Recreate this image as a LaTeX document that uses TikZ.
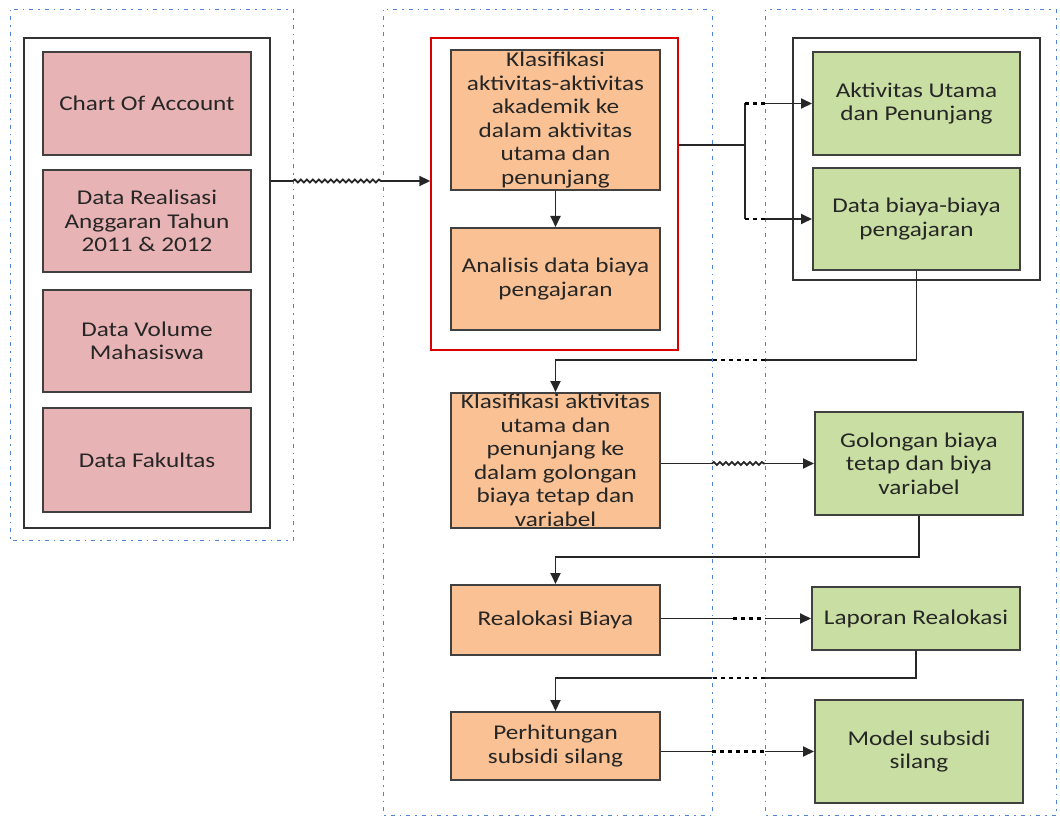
\documentclass[tikz,border=0pt]{standalone}
\usepackage{fontspec}
\setmainfont{Carlito}[FakeStretch=1.2]
\usetikzlibrary{arrows.meta,decorations.pathmorphing}
\definecolor{pinkf}{HTML}{E8B3B5}
\definecolor{orangef}{HTML}{F9C194}
\definecolor{greenf}{HTML}{C9DEA2}
\definecolor{lanec}{HTML}{4F82D9}
\definecolor{txt}{HTML}{262626}
\tikzset{
  lane/.style={draw=lanec, line width=1pt, dash pattern=on 1.5pt off 5pt on 4pt off 5pt},
  outer/.style={draw=black!80, line width=2pt, fill=white, rectangle},
  redframe/.style={draw=red!85!black, line width=1.4pt, fill=white, rectangle},
  basebox/.style={draw=black!75, line width=2pt, rectangle, align=center, text=txt,
    font=\fontsize{21}{23.5}\selectfont, inner sep=0pt},
  pinkbox/.style={basebox, fill=pinkf},
  orangebox/.style={basebox, fill=orangef},
  greenbox/.style={basebox, fill=greenf},
  line/.style={draw=black!85, line width=1.8pt},
  arr/.style={line, -{Triangle[length=11pt,width=10pt]}},
  dotline/.style={draw=black, line width=2.4pt, dash pattern=on 4pt off 4pt},
  wavy/.style={line, decorate, decoration={snake, amplitude=1.5pt, segment length=6pt}}
}
\begin{document}
\begin{tikzpicture}[x=1pt,y=-1pt]
\useasboundingbox (0,0) rectangle (1060,818);
% swimlanes
\draw[lane] (10,10) rectangle (293,540);
\draw[lane] (383,10) rectangle (712,815);
\draw[lane] (765,10) rectangle (1056,815);
\coordinate (l1r) at (293,0);
\coordinate (l2l) at (383,0);
\coordinate (l2r) at (712,0);
\coordinate (l3l) at (765,0);
% left group
\node[outer, minimum width=246pt, minimum height=490pt] (outerL) at (147,283) {};
\node[pinkbox, minimum width=208pt, minimum height=103pt] (coa) at (147,103.5) {Chart Of Account};
\node[pinkbox, minimum width=208pt, minimum height=102pt] (real) at (147,221) {Data Realisasi\\Anggaran Tahun\\2011 \& 2012};
\node[pinkbox, minimum width=208pt, minimum height=102pt] (vol) at (147,341) {Data Volume\\Mahasiswa};
\node[pinkbox, minimum width=208pt, minimum height=104pt] (fak) at (147,460) {Data Fakultas};
% middle group
\node[redframe, minimum width=247pt, minimum height=312pt] (red) at (554.5,194) {};
\node[orangebox, minimum width=209pt, minimum height=140pt] (kl1) at (555.5,120) {Klasifikasi\\aktivitas-aktivitas\\akademik ke\\dalam aktivitas\\utama dan\\penunjang};
\node[orangebox, minimum width=209pt, minimum height=102pt] (ana) at (555.5,279) {Analisis data biaya\\pengajaran};
% right group
\node[outer, minimum width=247pt, minimum height=242pt] (outerR) at (916.5,159) {};
\node[greenbox, minimum width=207pt, minimum height=103pt] (akt) at (916.5,103.5) {Aktivitas Utama\\dan Penunjang};
\node[greenbox, minimum width=207pt, minimum height=102pt] (dbp) at (916.5,219) {Data biaya-biaya\\pengajaran};
% lower rows
\node[orangebox, minimum width=209pt, minimum height=135pt] (kl2) at (555.5,460.5) {Klasifikasi aktivitas\\utama dan\\penunjang ke\\dalam golongan\\biaya tetap dan\\variabel};
\node[greenbox, minimum width=208pt, minimum height=103pt] (gol) at (919,463.5) {Golongan biaya\\tetap dan biya\\variabel};
\node[orangebox, minimum width=209pt, minimum height=70pt] (rea) at (555.5,620) {Realokasi Biaya};
\node[greenbox, minimum width=208pt, minimum height=63pt] (lap) at (916,618.5) {Laporan Realokasi};
\node[orangebox, minimum width=209pt, minimum height=68pt] (per) at (555.5,746) {Perhitungan\\subsidi silang};
\node[greenbox, minimum width=208pt, minimum height=103pt] (mod) at (919,751.5) {Model subsidi\\silang};
% connector 1: left group -> red frame
\coordinate (a1) at ([yshift=13pt]red.west);
\draw[line] (outerL.east |- a1) -- (l1r |- a1);
\draw[wavy] (l1r |- a1) -- (l2l |- a1);
\draw[arr] (l2l |- a1) -- (a1);
% kl1 -> ana
\draw[arr] (kl1.south) -- (ana.north);
% red frame -> akt, dbp
\coordinate (b1) at ([yshift=49pt]red.east);
\coordinate (fx) at (745,0);
\draw[line] (b1) -- (fx |- b1);
\draw[line] (fx |- akt.west) -- (fx |- dbp.west);
\draw[dotline] (fx |- akt.west) -- (l3l |- akt.west);
\draw[dotline] (fx |- dbp.west) -- (l3l |- dbp.west);
\draw[arr] (l3l |- akt.west) -- (akt.west);
\draw[arr] (l3l |- dbp.west) -- (dbp.west);
% dbp -> kl2
\coordinate (r1) at (0,360);
\draw[line] (dbp.south) |- (l3l |- r1);
\draw[dotline] (l3l |- r1) -- (l2r |- r1);
\draw[arr] (l2r |- r1) -| (kl2.north);
% kl2 -> gol
\draw[line] (kl2.east |- gol.west) -- (l2r |- gol.west);
\draw[wavy] (l2r |- gol.west) -- (l3l |- gol.west);
\draw[arr] (l3l |- gol.west) -- (gol.west);
% gol -> rea
\coordinate (r2) at (0,557);
\draw[arr] (gol.south) |- (rea.north |- r2) -- (rea.north);
% rea -> lap
\coordinate (dx) at (733,0);
\draw[line] (rea.east |- lap.west) -- (dx |- lap.west);
\draw[dotline] (dx |- lap.west) -- (l3l |- lap.west);
\draw[arr] (l3l |- lap.west) -- (lap.west);
% lap -> per
\coordinate (r3) at (0,678);
\draw[line] (lap.south) |- (l3l |- r3);
\draw[dotline] (l3l |- r3) -- (l2r |- r3);
\draw[arr] (l2r |- r3) -| (per.north);
% per -> mod
\draw[line] (per.east |- mod.west) -- (l2r |- mod.west);
\draw[dotline] (l2r |- mod.west) -- (l3l |- mod.west);
\draw[arr] (l3l |- mod.west) -- (mod.west);
\end{tikzpicture}
\end{document}
